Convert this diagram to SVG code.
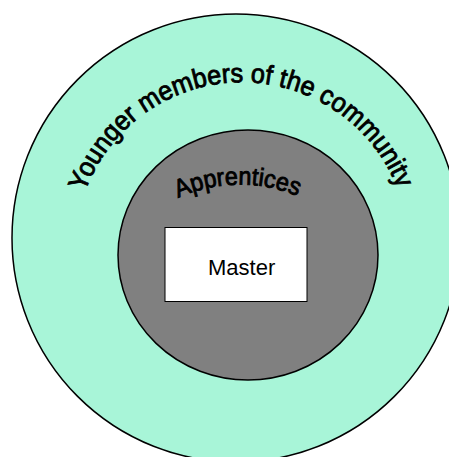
<svg xmlns="http://www.w3.org/2000/svg" xmlns:xlink="http://www.w3.org/1999/xlink" width="449" height="457" viewBox="0 0 449 457">
  <style>
    .ring { stroke: #000; stroke-width: 1.5; }
    .arc-label { font-family: "Liberation Sans", Arial, sans-serif; fill: #000; stroke: #000; stroke-width: 0.9; }
    .label { font-family: "Liberation Sans", Arial, sans-serif; fill: #000; }
  </style>
  <defs>
    <path id="outerArc" d="M85,192 A167,167 0 0 1 398,190" fill="none"/>
    <path id="innerArc" d="M178,198 A150,150 0 0 1 302,198" fill="none"/>
  </defs>
  <rect width="449" height="457" fill="#fff"/>
  <g id="community">
    <circle class="ring" cx="236" cy="238" r="224" fill="#a8f5d8"/>
    <text class="arc-label" font-size="27"><textPath xlink:href="#outerArc" href="#outerArc" textLength="404" lengthAdjust="spacingAndGlyphs">Younger members of the community</textPath></text>
  </g>
  <g id="apprentices">
    <ellipse class="ring" cx="248" cy="255" rx="130" ry="125" fill="#808080"/>
    <text class="arc-label" font-size="25" stroke-width="1.2"><textPath xlink:href="#innerArc" href="#innerArc" textLength="123" lengthAdjust="spacingAndGlyphs">Apprentices</textPath></text>
  </g>
  <g id="master">
    <rect x="165" y="227.5" width="142" height="74" fill="#fff" stroke="#000" stroke-width="1"/>
    <text class="label" x="208" y="275" font-size="22">Master</text>
  </g>
  <g id="connectors"/>
</svg>
